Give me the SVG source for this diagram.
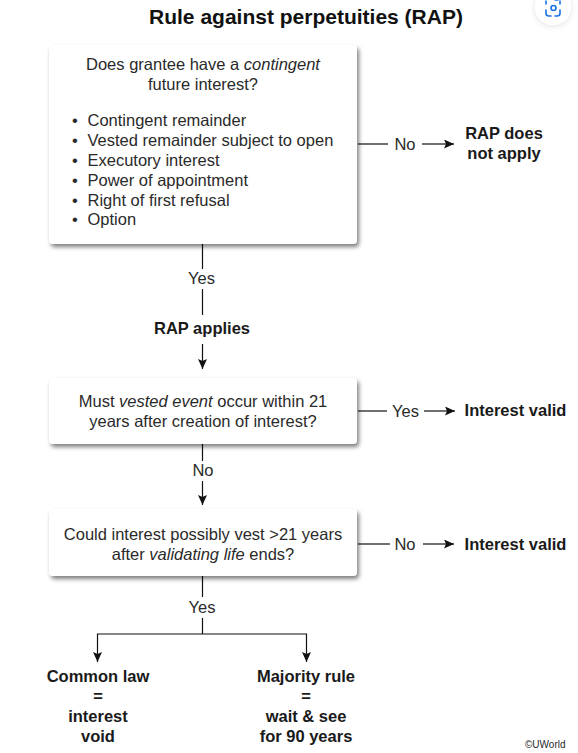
<svg xmlns="http://www.w3.org/2000/svg" width="578" height="753" viewBox="0 0 578 753">
<style>
text{font-family:"Liberation Sans",Arial,sans-serif;font-size:16.5px;fill:#2a2a2a}
.m{text-anchor:middle}
.b{font-weight:700;fill:#1a1a1a}
.t{font-size:21px;font-weight:700;fill:#111}
.i{font-style:italic}
.box{fill:#fff;filter:url(#sh)}
.c{fill:none;stroke:#111;stroke-width:1.2}
.ar{marker-end:url(#ah)}
.ic{fill:none;stroke:#1a73e8;stroke-width:1.6;stroke-linecap:round}
</style>
<defs>
<filter id="sh" x="-10%" y="-10%" width="120%" height="130%"><feDropShadow dx="2" dy="3" stdDeviation="2" flood-color="#000" flood-opacity=".5"/></filter>
<filter id="sf" x="-30%" y="-30%" width="160%" height="160%"><feDropShadow dx="0" dy="1" stdDeviation="3" flood-color="#000" flood-opacity=".12"/></filter>
<marker id="ah" markerUnits="userSpaceOnUse" markerWidth="11" markerHeight="10" refX="10" refY="4.5" orient="auto"><path d="M0 0L10 4.5L0 9L2 4.5Z" fill="#111"/></marker>
</defs>
<rect width="578" height="753" fill="#fff"/>
<g id="lens"><circle cx="553" cy="7" r="18" fill="#fff" filter="url(#sf)"/>
<path class="ic" d="M546 4V1M560 4V1M546 10V13.500Q546 16 549 16H551M560 10V13.500Q560 16 557 16H555M555 0H558"/><circle class="ic" cx="553.500" cy="8" r="2.500"/></g>
<text id="title" class="t m" x="306" y="24">Rule against perpetuities (RAP)</text>
<g id="connectors">
<path class="c" d="M358 144H388"/><path class="c ar" d="M422 144H454"/>
<path class="c" d="M202.500 244V269M202.500 289V315"/><path class="c ar" d="M202.500 344V369"/>
<path class="c" d="M358 411H387"/><path class="c ar" d="M424 411H455"/>
<path class="c" d="M202.500 444V461"/><path class="c ar" d="M202.500 481V505"/>
<path class="c" d="M358 544H390"/><path class="c ar" d="M423 544H454"/>
<path class="c" d="M202.500 576V597M202.500 618V634"/>
<path class="c ar" d="M202.500 634H97.500V662"/>
<path class="c ar" d="M202.500 634H306.500V662"/>
</g>
<g id="n1"><rect class="box" x="49" y="45" width="308" height="199" rx="4"/>
<text class="m" x="203" y="70">Does grantee have a <tspan class="i">contingent</tspan></text>
<text class="m" x="203" y="90">future interest?</text>
<text x="72" y="126">•</text><text x="87.500" y="126">Contingent remainder</text>
<text x="72" y="146">•</text><text x="87.500" y="146">Vested remainder subject to open</text>
<text x="72" y="166">•</text><text x="87.500" y="166">Executory interest</text>
<text x="72" y="186">•</text><text x="87.500" y="186">Power of appointment</text>
<text x="72" y="205.500">•</text><text x="87.500" y="205.500">Right of first refusal</text>
<text x="72" y="225">•</text><text x="87.500" y="225">Option</text></g>
<g id="n2"><rect class="box" x="49" y="378" width="308" height="66" rx="4"/>
<text class="m" x="203" y="407">Must <tspan class="i">vested event</tspan> occur within 21</text>
<text class="m" x="203" y="427">years after creation of interest?</text></g>
<g id="n3"><rect class="box" x="49" y="509" width="308" height="67" rx="4"/>
<text class="m" x="203" y="539.500">Could interest possibly vest &gt;21 years</text>
<text class="m" x="203" y="559.500">after <tspan class="i">validating life</tspan> ends?</text></g>
<g id="labels">
<text class="m" x="405" y="149.500">No</text>
<text class="m" x="201.500" y="284">Yes</text>
<text class="m" x="405.500" y="416.500">Yes</text>
<text class="m" x="203" y="476">No</text>
<text class="m" x="405" y="550">No</text>
<text class="m" x="202" y="613">Yes</text>
</g>
<g id="r1"><text class="b m" x="504" y="138.500">RAP does</text><text class="b m" x="504" y="159">not apply</text></g>
<g id="rap"><text class="b m" x="202" y="334">RAP applies</text></g>
<g id="v1"><text class="b m" x="515.500" y="415.500">Interest valid</text></g>
<g id="v2"><text class="b m" x="515.500" y="550">Interest valid</text></g>
<g id="common"><text class="b m" x="98" y="682">Common law</text><text class="b m" x="98" y="702">=</text><text class="b m" x="98" y="722">interest</text><text class="b m" x="98" y="741.500">void</text></g>
<g id="major"><text class="b m" x="306" y="682">Majority rule</text><text class="b m" x="306" y="702">=</text><text class="b m" x="306" y="722">wait &amp; see</text><text class="b m" x="306" y="741.500">for 90 years</text></g>
<text id="copy" x="525" y="748" style="font-size:10px">©UWorld</text>
</svg>
